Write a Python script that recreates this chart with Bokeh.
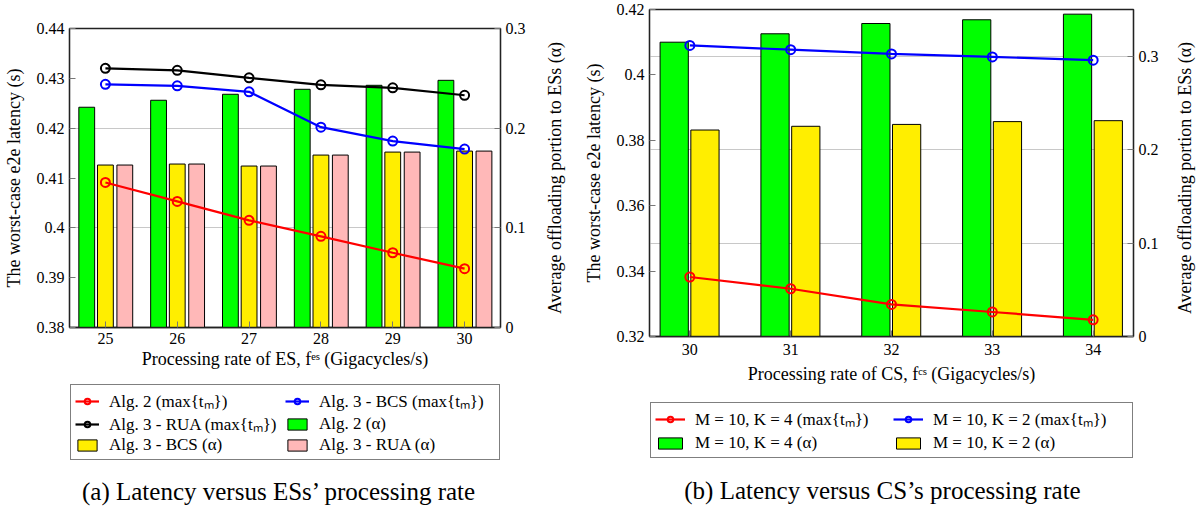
import math
from bokeh.plotting import figure
from bokeh.models import (Range1d, LinearAxis, FixedTicker, Legend, LegendItem,
                          Label, Grid, ColumnDataSource, Title)
from bokeh.transform import dodge
from bokeh.layouts import row, column
from bokeh.embed import file_html
from bokeh.resources import INLINE

# ---------------- data: panel (a) ----------------
es_rate = [25, 26, 27, 28, 29, 30]
alg2_latency = [0.4091, 0.4053, 0.4015, 0.3983, 0.3950, 0.3918]
bcs_latency = [0.4288, 0.4285, 0.4273, 0.4202, 0.4174, 0.4158]
rua_latency = [0.4320, 0.4316, 0.4301, 0.4287, 0.4281, 0.4266]
alg2_alpha = [0.221, 0.228, 0.234, 0.239, 0.243, 0.248]
bcs_alpha = [0.163, 0.164, 0.162, 0.173, 0.176, 0.177]
rua_alpha = [0.163, 0.164, 0.162, 0.173, 0.176, 0.177]
a_lat_ticks = [0.38, 0.39, 0.40, 0.41, 0.42, 0.43, 0.44]
a_lat_labels = ["0.38", "0.39", "0.4", "0.41", "0.42", "0.43", "0.44"]
a_alpha_ticks = [0.0, 0.1, 0.2, 0.3]
a_alpha_labels = ["0", "0.1", "0.2", "0.3"]

# ---------------- data: panel (b) ----------------
cs_rate = [30, 31, 32, 33, 34]
k4_latency = [0.3382, 0.3346, 0.3298, 0.3275, 0.3251]
k2_latency = [0.4090, 0.4077, 0.4064, 0.4055, 0.4045]
k4_alpha = [0.315, 0.324, 0.335, 0.339, 0.345]
k2_alpha = [0.221, 0.225, 0.227, 0.230, 0.231]
b_lat_ticks = [0.32, 0.34, 0.36, 0.38, 0.40, 0.42]
b_lat_labels = ["0.32", "0.34", "0.36", "0.38", "0.4", "0.42"]
b_alpha_ticks = [0.0, 0.1, 0.2, 0.3]
b_alpha_labels = ["0", "0.1", "0.2", "0.3"]

SERIF = "Liberation Serif"
GREEN = "#00FF00"
YELLOW = "#FFEE00"
PINK = "#FFB8B8"
ALPHA_LABEL = "Average offloading portion to ESs (α)"


def style_axis(ax, ticks, labels, label_standoff=10, tick_standoff=5):
    ax.ticker = FixedTicker(ticks=ticks)
    ax.major_label_overrides = {t: l for t, l in zip(ticks, labels)}
    ax.major_label_text_font = SERIF
    ax.major_label_text_font_size = "16px"
    ax.major_label_text_color = "black"
    ax.axis_label_text_font = SERIF
    ax.axis_label_text_font_size = "18px"
    ax.axis_label_text_font_style = "normal"
    ax.axis_label_text_color = "black"
    ax.axis_label_standoff = label_standoff
    ax.major_label_standoff = tick_standoff
    ax.minor_tick_line_color = None
    ax.major_tick_in = 6
    ax.major_tick_out = 0
    ax.major_tick_line_color = "#777777"
    ax.axis_line_color = "#222222"
    ax.axis_line_width = 1.3


def base_fig(width, height, xr, yr, yr2, left, right, top, bottom):
    p = figure(width=width, height=height, x_range=Range1d(*xr), y_range=Range1d(*yr),
               output_backend="svg", toolbar_location=None, title=None,
               min_border_left=left, min_border_right=right,
               min_border_top=top, min_border_bottom=bottom,
               background_fill_color="white", border_fill_color="white",
               outline_line_color="#222222", outline_line_width=1.3)
    p.extra_y_ranges = {"alpha": Range1d(*yr2)}
    p.xgrid.visible = False
    p.ygrid.visible = False
    return p


def add_right_axis(p, ticks, labels):
    ra = LinearAxis(y_range_name="alpha")
    style_axis(ra, ticks, labels)
    p.add_layout(ra, "right")
    p.add_layout(Grid(dimension=1, ticker=FixedTicker(ticks=ticks), y_range_name="alpha",
                      grid_line_color="#c8c8c8", grid_line_width=1))
    return ra


def line_with_marks(p, src, y, color, visible=True):
    l = p.line("x", y, source=src, line_color=color, line_width=2.2, visible=visible)
    s = p.scatter("x", y, source=src, marker="circle", size=9, line_color=color,
                  line_width=2, fill_alpha=0, visible=visible)
    return [l, s]


def blank_fig(width, height, **kw):
    f = figure(width=width, height=height, x_range=Range1d(0, 1), y_range=Range1d(0, 1),
               x_axis_type=None, y_axis_type=None, output_backend="svg",
               toolbar_location=None, title=None,
               outline_line_color=None, background_fill_color="white",
               border_fill_color="white", **kw)
    f.xgrid.visible = False
    f.ygrid.visible = False
    return f


def side_label_fig(width, top, bottom, left):
    # narrow strip carrying a right-hand axis title that reads bottom-to-top
    f = blank_fig(width, 510, min_border_top=top, min_border_bottom=bottom,
                  min_border_left=left, min_border_right=0)
    f.add_layout(Title(text=ALPHA_LABEL, align="center", text_font=SERIF,
                       text_font_size="18px", text_font_style="normal",
                       text_color="black", standoff=2), "left")
    return f


def hidden_bar(f, src, top, color):
    return [f.vbar(x="x", top=top, width=0.2, source=src, fill_color=color,
                   line_color="black", line_width=1, visible=False)]


def make_legend(items, glyph_w, label_w, spacing, loc):
    lg = Legend(items=items, location=loc, orientation="horizontal", ncols=2)
    lg.label_text_font = SERIF
    lg.label_text_font_size = "17px"
    lg.label_text_color = "black"
    lg.glyph_width = glyph_w
    lg.glyph_height = 14
    lg.label_standoff = 10
    lg.label_width = label_w
    lg.label_height = 20
    lg.spacing = spacing
    lg.padding = 4
    lg.margin = 0
    lg.border_line_color = "black"
    lg.border_line_width = 1.2
    return lg


def caption(text, x, y):
    return Label(x=x, y=y, x_units="screen", y_units="screen", text=text,
                 text_align="center", text_baseline="middle", text_font=SERIF,
                 text_font_size="25px", text_color="black")


# ================= panel (a) =================
pa = base_fig(535, 380, (24.5, 30.5), (0.38, 0.44), (0, 0.3), 67, 35, 28, 53)
src_a = ColumnDataSource(dict(x=es_rate, alg2_lat=alg2_latency, bcs_lat=bcs_latency,
                              rua_lat=rua_latency, alg2_a=alg2_alpha, bcs_a=bcs_alpha,
                              rua_a=rua_alpha))
add_right_axis(pa, a_alpha_ticks, a_alpha_labels)
style_axis(pa.yaxis[0], a_lat_ticks, a_lat_labels, label_standoff=10)
pa.yaxis[0].axis_label = "The worst-case e2e latency (s)"
style_axis(pa.xaxis[0], es_rate, [str(v) for v in es_rate], label_standoff=2)
pa.xaxis[0].axis_label = "Processing rate of ES, fᵉˢ (Gigacycles/s)"

bw_a = 0.22
pa.vbar(x=dodge("x", -0.26), top="alg2_a", width=bw_a, source=src_a, y_range_name="alpha",
        fill_color=GREEN, line_color="black", line_width=1)
pa.vbar(x=dodge("x", 0.0), top="bcs_a", width=bw_a, source=src_a, y_range_name="alpha",
        fill_color=YELLOW, line_color="black", line_width=1)
pa.vbar(x=dodge("x", 0.27), top="rua_a", width=bw_a, source=src_a, y_range_name="alpha",
        fill_color=PINK, line_color="black", line_width=1)
line_with_marks(pa, src_a, "alg2_lat", "#FF0000")
line_with_marks(pa, src_a, "bcs_lat", "#0000FF")
line_with_marks(pa, src_a, "rua_lat", "black")

la = blank_fig(535, 130, min_border=0)
leg_a = make_legend([
    LegendItem(label="Alg. 2 (max{tₘ})", renderers=line_with_marks(la, src_a, "alg2_lat", "#FF0000", False)),
    LegendItem(label="Alg. 3 - BCS (max{tₘ})", renderers=line_with_marks(la, src_a, "bcs_lat", "#0000FF", False)),
    LegendItem(label="Alg. 3 - RUA (max{tₘ})", renderers=line_with_marks(la, src_a, "rua_lat", "black", False)),
    LegendItem(label="Alg. 2 (α)", renderers=hidden_bar(la, src_a, "alg2_a", GREEN)),
    LegendItem(label="Alg. 3 - BCS (α)", renderers=hidden_bar(la, src_a, "bcs_a", YELLOW)),
    LegendItem(label="Alg. 3 - RUA (α)", renderers=hidden_bar(la, src_a, "rua_a", PINK)),
], 24, 176, 0, (1, 50))
la.add_layout(leg_a, "center")
la.add_layout(caption("(a) Latency versus ESs’ processing rate", 210, 19))

side_a = side_label_fig(45, 28, 183, 30)

# ================= panel (b) =================
pb = base_fig(585, 400, (29.6, 34.4), (0.32, 0.42), (0, 0.35), 68, 32, 9, 64)
src_b = ColumnDataSource(dict(x=cs_rate, k4_lat=k4_latency, k2_lat=k2_latency,
                              k4_a=k4_alpha, k2_a=k2_alpha))
add_right_axis(pb, b_alpha_ticks, b_alpha_labels)
style_axis(pb.yaxis[0], b_lat_ticks, b_lat_labels, label_standoff=10)
pb.yaxis[0].axis_label = "The worst-case e2e latency (s)"
style_axis(pb.xaxis[0], cs_rate, [str(v) for v in cs_rate], label_standoff=6, tick_standoff=7)
pb.xaxis[0].axis_label = "Processing rate of CS, fᶜˢ (Gigacycles/s)"

bw_b = 0.28
pb.vbar(x=dodge("x", -0.155), top="k4_a", width=bw_b, source=src_b, y_range_name="alpha",
        fill_color=GREEN, line_color="black", line_width=1)
pb.vbar(x=dodge("x", 0.15), top="k2_a", width=bw_b, source=src_b, y_range_name="alpha",
        fill_color=YELLOW, line_color="black", line_width=1)
line_with_marks(pb, src_b, "k4_lat", "#FF0000")
line_with_marks(pb, src_b, "k2_lat", "#0000FF")

lb = blank_fig(585, 110, min_border=0)
leg_b = make_legend([
    LegendItem(label="M = 10, K = 4 (max{tₘ})", renderers=line_with_marks(lb, src_b, "k4_lat", "#FF0000", False)),
    LegendItem(label="M = 10, K = 2 (max{tₘ})", renderers=line_with_marks(lb, src_b, "k2_lat", "#0000FF", False)),
    LegendItem(label="M = 10, K = 4 (α)", renderers=hidden_bar(lb, src_b, "k4_a", GREEN)),
    LegendItem(label="M = 10, K = 2 (α)", renderers=hidden_bar(lb, src_b, "k2_a", YELLOW)),
], 30, 195, 3, (1, 52))
lb.add_layout(leg_b, "center")
lb.add_layout(caption("(b) Latency versus CS’s processing rate", 233, 20))

side_b = side_label_fig(35, 9, 174, 30)

layout = row(column(pa, la, spacing=0), side_a, column(pb, lb, spacing=0), side_b, spacing=0)
open("out.html", "w").write(file_html(layout, INLINE))
